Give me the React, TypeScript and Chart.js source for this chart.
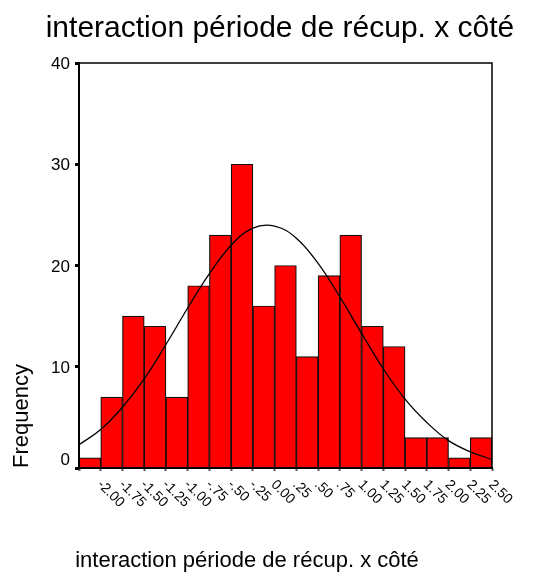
import React, { useEffect, useRef } from "react";
import { Chart, registerables } from "chart.js";

Chart.register(...registerables);

const chartTitle = "interaction période de récup. x côté";
const xAxisTitle = "interaction période de récup. x côté";
const yAxisTitle = "Frequency";

// histogram bins (centers) and their labels
const binCenters = [-2.0, -1.75, -1.5, -1.25, -1.0, -0.75, -0.5, -0.25, 0.0, 0.25, 0.5, 0.75, 1.0, 1.25, 1.5, 1.75, 2.0, 2.25, 2.5];
const binLabels = ["-2.00", "-1.75", "-1.50", "-1.25", "-1.00", "-.75", "-.50", "-.25", "0.00", ".25", ".50", ".75", "1.00", "1.25", "1.50", "1.75", "2.00", "2.25", "2.50"];
const frequencies = [1, 7, 15, 14, 7, 18, 23, 30, 16, 20, 11, 19, 23, 14, 12, 3, 3, 1, 3];

// normal curve, read at bin edges
const curveX = [-2.125, -1.875, -1.625, -1.375, -1.125, -0.875, -0.625, -0.375, -0.125, 0.125, 0.375, 0.625, 0.875, 1.125, 1.375, 1.625, 1.875, 2.125, 2.375, 2.625];
const curveY = [2.3, 3.8, 6.0, 8.8, 12.2, 15.8, 19.2, 22.0, 23.7, 23.9, 22.7, 20.2, 16.9, 13.3, 9.8, 6.8, 4.5, 2.7, 1.6, 0.85];

const yTicks = [0, 10, 20, 30, 40];
const xMin = -2.125;
const xMax = 2.625;

const FONT = "'Liberation Sans', Arial, Helvetica, sans-serif";

const textPlugin = {
  id: "spssText",
  afterDatasetsDraw(chart: any) {
    const { ctx, chartArea } = chart;
    const { left, right, top, bottom } = chartArea;
    ctx.save();
    ctx.strokeStyle = "#000";
    ctx.lineCap = "square";
    // frame top/right
    ctx.lineWidth = 1.5;
    ctx.beginPath();
    ctx.moveTo(left, top);
    ctx.lineTo(right, top);
    ctx.lineTo(right, bottom);
    ctx.stroke();
    // axes left/bottom
    ctx.lineWidth = 2;
    ctx.beginPath();
    ctx.moveTo(left, top);
    ctx.lineTo(left, bottom);
    ctx.lineTo(right, bottom);
    ctx.stroke();
    ctx.restore();
  },
  afterDraw(chart: any) {
    const { ctx, chartArea, scales } = chart;
    const { bottom } = chartArea;
    ctx.save();
    ctx.fillStyle = "#000";

    // main title
    ctx.font = `30px ${FONT}`;
    ctx.textAlign = "center";
    ctx.textBaseline = "alphabetic";
    ctx.fillText(chartTitle, 280, 37);

    // x axis title
    ctx.font = `22px ${FONT}`;
    ctx.fillText(xAxisTitle, 247, 567);

    // y axis title
    ctx.save();
    ctx.translate(28, bottom);
    ctx.rotate(-Math.PI / 2);
    ctx.textAlign = "left";
    ctx.fillText(yAxisTitle, 0, 0);
    ctx.restore();

    // y tick labels
    ctx.font = `17px ${FONT}`;
    ctx.textAlign = "right";
    ctx.textBaseline = "middle";
    yTicks.forEach((v) => {
      const py = scales.y.getPixelForValue(v);
      ctx.fillText(String(v), 70, v === 0 ? py - 8 : py + 1.5);
    });

    // x tick labels, rotated clockwise
    ctx.font = `14px ${FONT}`;
    ctx.textAlign = "left";
    ctx.textBaseline = "middle";
    binCenters.forEach((v, i) => {
      const px = scales.x.getPixelForValue(v);
      ctx.save();
      ctx.translate(px + 9.5, bottom + 14.5);
      ctx.rotate(Math.PI / 4);
      ctx.fillText(binLabels[i], 0, 0);
      ctx.restore();
    });
    ctx.restore();
  },
};

export default function App() {
  const canvasRef = useRef<HTMLCanvasElement | null>(null);

  useEffect(() => {
    if (!canvasRef.current) return;
    const chart = new Chart(canvasRef.current, {
      type: "bar",
      data: {
        datasets: [
          {
            type: "line",
            data: curveX.map((x, i) => ({ x, y: curveY[i] })),
            borderColor: "#000",
            borderWidth: 1.3,
            pointRadius: 0,
            tension: 0.4,
            fill: false,
            order: 0,
          } as any,
          {
            type: "bar",
            data: binCenters.map((x, i) => ({ x, y: frequencies[i] })),
            backgroundColor: "#FF0000",
            borderColor: "#111",
            borderWidth: 1.2,
            categoryPercentage: 1,
            barPercentage: 1,
            order: 1,
          } as any,
        ],
      },
      options: {
        responsive: false,
        animation: false,
        events: [],
        layout: { padding: { top: 63, right: 41, left: 0, bottom: 0 } },
        plugins: {
          legend: { display: false },
          tooltip: { enabled: false },
          title: { display: false },
        },
        scales: {
          x: {
            type: "linear",
            min: xMin,
            max: xMax,
            offset: false,
            afterBuildTicks: (s: any) => {
              s.ticks = binCenters.map((v) => ({ value: v }));
            },
            afterFit: (s: any) => {
              s.height = 105;
            },
            ticks: { display: false },
            grid: {
              display: true,
              drawOnChartArea: false,
              drawTicks: true,
              tickLength: 3,
              tickColor: "#555",
              tickWidth: 2,
            },
            border: { display: false },
          },
          y: {
            type: "linear",
            min: 0,
            max: 40,
            afterBuildTicks: (s: any) => {
              s.ticks = yTicks.map((v) => ({ value: v }));
            },
            afterFit: (s: any) => {
              s.width = 79;
            },
            ticks: { display: false },
            grid: {
              display: true,
              drawOnChartArea: false,
              drawTicks: true,
              tickLength: 4,
              tickColor: "#000",
              tickWidth: 3,
            },
            border: { display: false },
          },
        },
      } as any,
      plugins: [textPlugin],
    });
    return () => chart.destroy();
  }, []);

  return (
    <div style={{ position: "absolute", left: 0, top: 0, width: 533, height: 573, background: "#fff" }}>
      <canvas ref={canvasRef} width={533} height={573} style={{ width: 533, height: 573, display: "block" }} />
    </div>
  );
}
